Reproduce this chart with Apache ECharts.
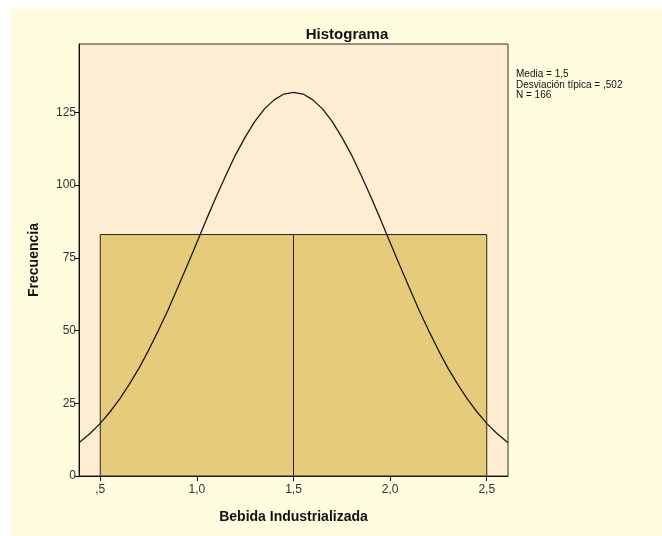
<!DOCTYPE html>
<html><head><meta charset="utf-8">
<script src="https://cdn.jsdelivr.net/npm/echarts@6/dist/echarts.min.js"></script>
<style>
html,body{margin:0;padding:0;background:#fff;}
#wrap{position:relative;width:662px;height:536px;background:#fff;}
#bg{position:absolute;left:11px;top:9px;right:0;bottom:0;background:#FFFBDE;}
#chart{position:absolute;left:0;top:0;width:662px;height:536px;}
</style></head>
<body><div id="wrap"><div id="bg"></div><div id="chart"></div></div>
<script>
// Histogram bins: [start, end, count]
const binStarts = [0.5, 1.5];
const binEnds = [1.5, 2.5];
const binCounts = [83, 83];
// Normal curve points
const curveX = [0.39,0.45,0.5,0.55,0.6,0.65,0.7,0.75,0.8,0.85,0.9,0.95,1.0,1.05,1.1,1.15,1.2,1.25,1.3,1.35,1.4,1.45,1.5,
                1.55,1.6,1.65,1.7,1.75,1.8,1.85,1.9,1.95,2.0,2.05,2.1,2.15,2.2,2.25,2.3,2.35,2.4,2.45,2.5,2.55,2.61];
const curveY = [11.4,14.8,18.1,22.0,26.4,31.5,37.0,43.2,49.9,57.0,64.6,72.4,80.3,88.3,96.0,103.4,110.4,116.5,121.9,126.2,129.3,131.3,131.9,
                131.3,129.3,126.2,121.9,116.5,110.4,103.4,96.0,88.3,80.3,72.4,64.6,57.0,49.9,43.2,37.0,31.5,26.4,22.0,18.1,14.8,11.4];
const xTicks = [0.5, 1.0, 1.5, 2.0, 2.5];
const statsLines = ['Media = 1,5', 'Desviación típica = ,502', 'N = 166'];

const chart = echarts.init(document.getElementById('chart'));
const fmtX = v => (Math.abs(v - 0.5) < 1e-9 ? ',5' : v.toFixed(1).replace('.', ','));
chart.setOption({
  animation: false,
  textStyle: {fontFamily: 'Liberation Sans, Arial, sans-serif'},
  title: {
    text: 'Histograma', left: 342, top: 22, textAlign: 'center',
    textStyle: {fontSize: 15, fontWeight: 'bold', color: '#111', fontFamily: 'Liberation Sans, Arial, sans-serif'}
  },
  grid: {left: 79, right: 154, top: 44, bottom: 60, show: true, backgroundColor: '#FEEDD2', borderColor: '#3a3128', borderWidth: 1},
  xAxis: {
    type: 'value', min: 0.39, max: 2.61,
    name: 'Bebida Industrializada', nameLocation: 'middle', nameGap: 34,
    nameTextStyle: {fontSize: 14, fontWeight: 'bold', color: '#111'},
    axisLine: {show: true, lineStyle: {color: '#111'}},
    axisTick: {show: true, length: 5, lineStyle: {color: '#111'}, customValues: xTicks},
    axisLabel: {show: true, fontSize: 12, color: '#333', margin: 8, customValues: xTicks, formatter: fmtX},
    splitLine: {show: false}
  },
  yAxis: {
    type: 'value', min: 0, max: 148.5, interval: 25,
    name: 'Frecuencia', nameLocation: 'middle', nameGap: 38, nameRotate: 90,
    nameTextStyle: {fontSize: 14, fontWeight: 'bold', color: '#111'},
    axisLine: {show: true, lineStyle: {color: '#111'}},
    axisTick: {show: true, length: 5, lineStyle: {color: '#111'}},
    axisLabel: {fontSize: 12, color: '#333', margin: 3, showMaxLabel: false},
    splitLine: {show: false}
  },
  graphic: [{
    type: 'text', left: 516, top: 69,
    style: {text: statsLines.join('\n'), fontSize: 10, lineHeight: 10.5, fill: '#111', fontFamily: 'Liberation Sans, Arial, sans-serif'}
  }],
  series: [{
    type: 'custom',
    data: binStarts.map((s, i) => [s, binEnds[i], binCounts[i]]),
    renderItem: function (params, api) {
      const p0 = api.coord([api.value(0), api.value(2)]);
      const p1 = api.coord([api.value(1), 0]);
      return {type: 'rect', shape: {x: p0[0], y: p0[1], width: p1[0] - p0[0], height: p1[1] - p0[1]},
        style: {fill: '#E6CB7B', stroke: '#2a2218', lineWidth: 1}};
    },
    z: 2
  }, {
    type: 'line', smooth: false, symbol: 'none',
    data: curveX.map((x, i) => [x, curveY[i]]),
    lineStyle: {color: '#1a1a1a', width: 1.3},
    z: 3
  }]
});
</script></body></html>
